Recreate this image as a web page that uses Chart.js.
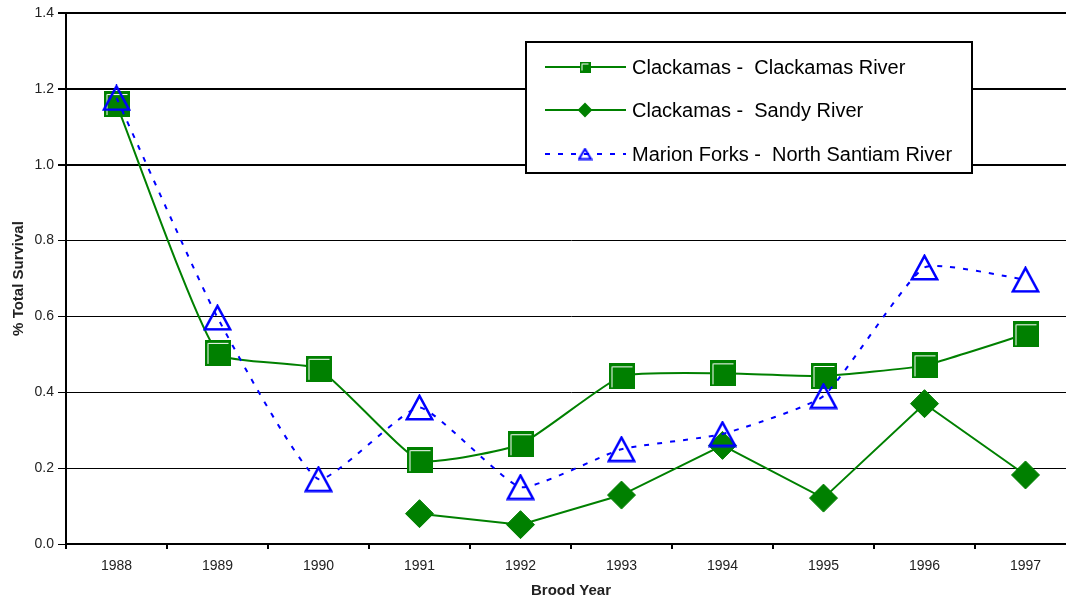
<!DOCTYPE html>
<html>
<head>
<meta charset="utf-8">
<script src="https://cdn.jsdelivr.net/npm/chart.js@4/dist/chart.umd.min.js"></script>
<style>
  html, body { margin:0; padding:0; background:#fff; overflow:hidden; }
  canvas { display:block; }
</style>
</head>
<body>
<!-- the plot in the original runs slightly past the right edge, so the canvas does too -->
<canvas id="chart" width="1076" height="601"></canvas>
<script>
const broodYears = ['1988', '1989', '1990', '1991', '1992', '1993', '1994', '1995', '1996', '1997'];
const clackamasRiver = [1.16, 0.504, 0.462, 0.221, 0.263, 0.442, 0.45, 0.443, 0.471, 0.553];
const sandyRiver = [null, null, null, 0.08, 0.051, 0.129, 0.26, 0.121, 0.37, 0.182];
const marionForks = [1.176, 0.597, 0.171, 0.36, 0.15, 0.25, 0.29, 0.39, 0.729, 0.697];
const seriesNames = ['Clackamas -  Clackamas River', 'Clackamas -  Sandy River', 'Marion Forks -  North Santiam River'];

const GREEN = '#008000';
const BLUE = '#0000ff';
const FONT = 'Arial, "Liberation Sans", sans-serif';

function squareMarker(size) {
    const c = document.createElement('canvas');
    c.width = size; c.height = size;
    const g = c.getContext('2d');
    g.fillStyle = GREEN;
    g.fillRect(0, 0, size, size);
    g.strokeStyle = '#fff';
    g.lineWidth = 1;
    const o = size > 15 ? 3.5 : 2.5;
    g.beginPath();
    g.moveTo(o, size - 2);
    g.lineTo(o, o);
    g.lineTo(size - 2, o);
    g.stroke();
    return c;
}

function triangleMarker(w, h, lw) {
    const c = document.createElement('canvas');
    c.width = w; c.height = h;
    const g = c.getContext('2d');
    g.strokeStyle = BLUE;
    g.lineWidth = lw;
    const m = lw * 0.75;
    g.beginPath();
    g.moveTo(w / 2, m);
    g.lineTo(m, h - m);
    g.lineTo(w - m, h - m);
    g.closePath();
    g.stroke();
    return c;
}

const bigSquare = squareMarker(26);
const smallSquare = squareMarker(11);
const bigTriangle = triangleMarker(29, 27, 2.5);
const smallTriangle = triangleMarker(15, 13, 2);

// legend drawn inside the plot, like the original
const boxLegend = {
    id:'boxLegend',
    afterDraw(chart) {
        const ctx = chart.ctx;
        const x0 = 526, y0 = 42, x1 = 972, y1 = 173;
        const rows = [67, 110, 154];
        const markers = [
            { image:smallSquare },
            { style:'rectRot', radius:6 },
            { image:smallTriangle }
        ];
        ctx.save();
        ctx.fillStyle = '#fff';
        ctx.fillRect(x0, y0, x1 - x0, y1 - y0);
        ctx.strokeStyle = '#000';
        ctx.lineWidth = 2;
        ctx.strokeRect(x0, y0, x1 - x0, y1 - y0);

        chart.data.datasets.forEach((ds, i) => {
            const y = rows[i];
            ctx.strokeStyle = ds.borderColor;
            ctx.lineWidth = 2;
            ctx.setLineDash(ds.borderDash || []);
            ctx.beginPath();
            ctx.moveTo(545, y);
            ctx.lineTo(626, y);
            ctx.stroke();
            ctx.setLineDash([]);

            const mk = markers[i];
            if (mk.image) {
                ctx.drawImage(mk.image, 585 - mk.image.width / 2, y - mk.image.height / 2);
            } else {
                ctx.fillStyle = GREEN;
                ctx.strokeStyle = GREEN;
                Chart.helpers.drawPoint(ctx, { pointStyle:mk.style, radius:mk.radius, borderWidth:1 }, 585, y);
            }

            ctx.fillStyle = '#000';
            ctx.font = `20px ${FONT}`;
            ctx.textBaseline = 'middle';
            ctx.textAlign = 'left';
            ctx.fillText(seriesNames[i], 632, y + 1);
        });
        ctx.restore();
    }
};

new Chart(document.getElementById('chart'), {
    type:'line',
    data:{
        labels:broodYears,
        datasets:[
            {
                label:seriesNames[0],
                data:clackamasRiver,
                borderColor:GREEN,
                backgroundColor:GREEN,
                borderWidth:2,
                tension:0.15,
                pointStyle:bigSquare,
                pointRadius:13,
                order:2
            },
            {
                label:seriesNames[1],
                data:sandyRiver,
                borderColor:GREEN,
                backgroundColor:GREEN,
                borderWidth:2,
                tension:0,
                pointStyle:'rectRot',
                pointRadius:14,
                pointBorderWidth:1,
                order:1
            },
            {
                label:seriesNames[2],
                data:marionForks,
                borderColor:BLUE,
                backgroundColor:'rgba(0,0,0,0)',
                borderWidth:2,
                borderDash:[5, 8],
                tension:0.15,
                pointStyle:bigTriangle,
                pointRadius:14,
                order:0
            }
        ]
    },
    options:{
        responsive:false,
        animation:false,
        layout:{ autoPadding:false, padding:{ top:13, right:0, left:0, bottom:0 } },
        plugins:{
            legend:{ display:false },
            tooltip:{ enabled:false }
        },
        scales:{
            x:{
                offset:true,
                grid:{
                    offset:true,
                    drawOnChartArea:false,
                    drawTicks:true,
                    tickLength:5,
                    color:'#000',
                    lineWidth:2
                },
                border:{ color:'#000', width:2 },
                ticks:{
                    color:'#222',
                    font:{ family:FONT, size:14 },
                    padding:9,
                    maxRotation:0
                },
                title:{
                    display:true,
                    text:'Brood Year',
                    color:'#222',
                    font:{ family:FONT, size:15, weight:'bold' },
                    padding:{ top:0, bottom:1 }
                },
                afterFit(scale) {
                    scale.height = 57;
                    scale.paddingLeft = 0;
                    scale.paddingRight = 0;
                }
            },
            y:{
                min:0,
                max:1.4,
                ticks:{
                    stepSize:0.2,
                    color:'#222',
                    font:{ family:FONT, size:14 },
                    padding:4,
                    callback:value => Number(value).toFixed(1)
                },
                grid:{
                    color:'#000',
                    lineWidth:ctx => (ctx.tick && ctx.tick.value >= 0.99 ? 2 : 1),
                    tickLength:8
                },
                border:{ color:'#000', width:2 },
                title:{
                    display:true,
                    text:'% Total Survival',
                    color:'#222',
                    font:{ family:FONT, size:15, weight:'bold' },
                    padding:{ top:10, bottom:0 }
                },
                afterFit(scale) {
                    scale.width = 66;
                    scale.paddingTop = 0;
                    scale.paddingBottom = 0;
                }
            }
        }
    },
    plugins:[boxLegend]
});
</script>
</body>
</html>
